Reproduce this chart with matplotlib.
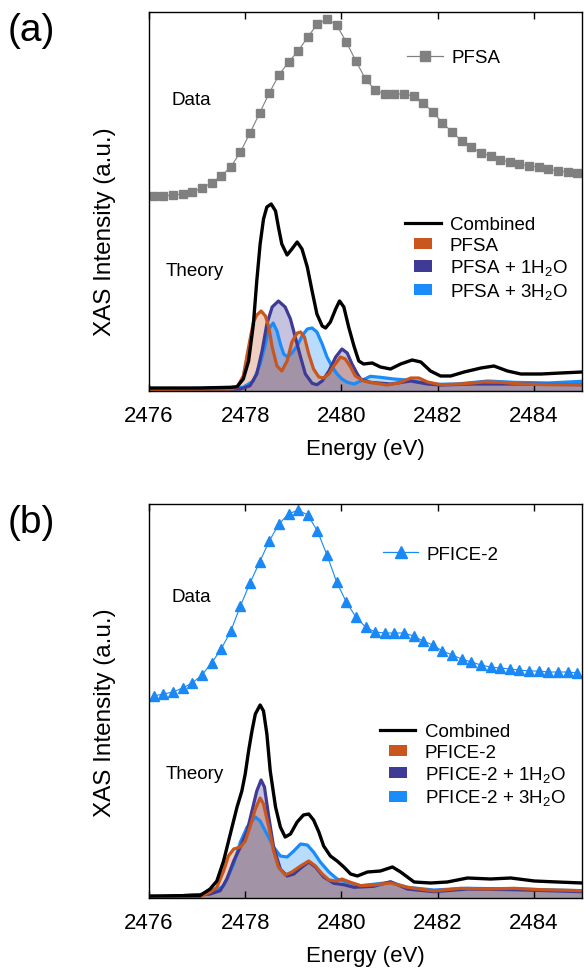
import matplotlib
matplotlib.use("Agg")
import matplotlib.pyplot as plt
import matplotlib.patches as mpatches
from matplotlib.lines import Line2D
from matplotlib.legend_handler import HandlerPatch

plt.rcParams['font.family'] = ['Liberation Sans', 'DejaVu Sans']
plt.rcParams['mathtext.fontset'] = 'custom'
plt.rcParams['mathtext.rm'] = 'Liberation Sans'
plt.rcParams['mathtext.it'] = 'Liberation Sans:italic'
plt.rcParams['mathtext.bf'] = 'Liberation Sans:bold'

# ---------------- data ----------------
data_energy = [2476.1 + 0.2 * i for i in range(45)]

pfsa_data = [1.95, 1.95, 1.96, 1.97, 1.99, 2.03, 2.08, 2.15, 2.24, 2.39, 2.58, 2.78,
             2.98, 3.16, 3.29, 3.40, 3.54, 3.67, 3.72, 3.66, 3.49, 3.30, 3.12, 3.01,
             2.97, 2.97, 2.97, 2.95, 2.88, 2.79, 2.68, 2.59, 2.50, 2.44, 2.38, 2.35,
             2.31, 2.29, 2.27, 2.25, 2.24, 2.22, 2.20, 2.19, 2.18]

pfice_data = [2.02, 2.04, 2.06, 2.10, 2.15, 2.23, 2.35, 2.49, 2.67, 2.92, 3.15, 3.36,
              3.57, 3.74, 3.84, 3.88, 3.83, 3.67, 3.43, 3.16, 2.96, 2.81, 2.71, 2.66,
              2.65, 2.65, 2.65, 2.62, 2.57, 2.53, 2.47, 2.43, 2.39, 2.36, 2.33, 2.31,
              2.30, 2.29, 2.28, 2.27, 2.27, 2.26, 2.26, 2.26, 2.25]

# theory (a)
a_comb_e = [2476.00, 2477.06, 2477.69, 2477.83, 2477.96, 2478.07, 2478.17, 2478.24, 2478.31,
            2478.38, 2478.45, 2478.54, 2478.63, 2478.69, 2478.76, 2478.87, 2478.97, 2479.08,
            2479.18, 2479.29, 2479.39, 2479.49, 2479.60, 2479.67, 2479.77, 2479.88, 2479.96,
            2480.05, 2480.15, 2480.26, 2480.36, 2480.46, 2480.64, 2480.81, 2481.02, 2481.23,
            2481.47, 2481.65, 2481.85, 2482.06, 2482.27, 2482.55, 2482.90, 2483.17, 2483.45,
            2483.73, 2484.15, 2484.56, 2485.00]
a_comb_v = [0.03, 0.03, 0.037, 0.043, 0.12, 0.30, 0.67, 1.10, 1.47,
            1.72, 1.84, 1.87, 1.80, 1.64, 1.47, 1.36, 1.42, 1.49,
            1.42, 1.24, 1.00, 0.77, 0.65, 0.63, 0.69, 0.82, 0.90,
            0.84, 0.64, 0.45, 0.30, 0.27, 0.28, 0.24, 0.22, 0.27,
            0.31, 0.29, 0.20, 0.15, 0.15, 0.19, 0.23, 0.25, 0.20,
            0.17, 0.17, 0.18, 0.19]

a_pfsa_e = [2476.00, 2477.69, 2477.83, 2477.96, 2478.07, 2478.17, 2478.24, 2478.33, 2478.42,
            2478.49, 2478.56, 2478.66, 2478.76, 2478.87, 2478.97, 2479.08, 2479.15, 2479.23,
            2479.32, 2479.42, 2479.53, 2479.63, 2479.74, 2479.84, 2479.98, 2480.08, 2480.19,
            2480.29, 2480.46, 2480.67, 2480.95, 2481.19, 2481.44, 2481.61, 2481.79, 2482.06,
            2482.48, 2482.96, 2483.31, 2483.73, 2484.29, 2485.00]
a_pfsa_v = [0.015, 0.02, 0.037, 0.15, 0.44, 0.69, 0.76, 0.80, 0.75,
            0.64, 0.44, 0.25, 0.20, 0.30, 0.49, 0.58, 0.59, 0.54,
            0.37, 0.22, 0.14, 0.13, 0.17, 0.25, 0.34, 0.32, 0.24,
            0.15, 0.10, 0.08, 0.06, 0.08, 0.13, 0.13, 0.09, 0.063,
            0.07, 0.09, 0.087, 0.07, 0.063, 0.063]

a_h1_e = [2476.00, 2477.90, 2478.10, 2478.24, 2478.35, 2478.45, 2478.56, 2478.69, 2478.83,
          2478.94, 2479.04, 2479.15, 2479.25, 2479.39, 2479.49, 2479.60, 2479.74, 2479.88,
          2480.01, 2480.12, 2480.22, 2480.33, 2480.40, 2480.60, 2481.02, 2481.44, 2481.79,
          2482.06, 2482.76, 2483.45, 2485.00]
a_h1_v = [0.015, 0.02, 0.053, 0.17, 0.40, 0.67, 0.84, 0.90, 0.84,
          0.72, 0.54, 0.34, 0.17, 0.077, 0.063, 0.10, 0.20, 0.34,
          0.42, 0.38, 0.27, 0.17, 0.12, 0.087, 0.07, 0.10, 0.07,
          0.06, 0.07, 0.07, 0.063]

a_h3_e = [2476.00, 2477.96, 2478.17, 2478.31, 2478.42, 2478.49, 2478.58, 2478.66, 2478.73,
          2478.80, 2478.88, 2478.97, 2479.08, 2479.18, 2479.29, 2479.39, 2479.49, 2479.60,
          2479.70, 2479.81, 2479.91, 2480.01, 2480.12, 2480.26, 2480.40, 2480.60, 2480.81,
          2481.09, 2481.37, 2481.65, 2481.99, 2482.41, 2483.04, 2483.59, 2484.29, 2485.00]
a_h3_v = [0.015, 0.037, 0.10, 0.27, 0.47, 0.62, 0.68, 0.60, 0.47,
          0.37, 0.34, 0.38, 0.45, 0.55, 0.62, 0.63, 0.59, 0.47,
          0.34, 0.24, 0.17, 0.12, 0.087, 0.07, 0.10, 0.147, 0.137,
          0.12, 0.11, 0.087, 0.067, 0.07, 0.10, 0.087, 0.08, 0.097]

# theory (b)
b_comb_e = [2476.00, 2477.06, 2477.27, 2477.41, 2477.55, 2477.69, 2477.83, 2477.93, 2478.00,
            2478.07, 2478.14, 2478.21, 2478.31, 2478.38, 2478.45, 2478.52, 2478.63, 2478.73,
            2478.83, 2478.94, 2479.08, 2479.21, 2479.32, 2479.42, 2479.53, 2479.63, 2479.77,
            2479.91, 2480.05, 2480.19, 2480.33, 2480.54, 2480.81, 2481.06, 2481.23, 2481.51,
            2481.85, 2482.20, 2482.62, 2483.10, 2483.52, 2484.01, 2484.49, 2485.00]
b_comb_v = [0.02, 0.025, 0.09, 0.17, 0.37, 0.64, 0.91, 1.07, 1.24,
            1.47, 1.67, 1.84, 1.93, 1.87, 1.64, 1.27, 0.91, 0.71,
            0.61, 0.64, 0.76, 0.83, 0.84, 0.78, 0.66, 0.52, 0.42,
            0.37, 0.31, 0.24, 0.22, 0.26, 0.27, 0.31, 0.26, 0.16,
            0.15, 0.16, 0.20, 0.19, 0.20, 0.17, 0.16, 0.15]

b_pfice_e = [2476.00, 2477.06, 2477.27, 2477.41, 2477.55, 2477.65, 2477.76, 2477.90, 2478.00,
             2478.10, 2478.21, 2478.31, 2478.38, 2478.49, 2478.59, 2478.69, 2478.83, 2478.97,
             2479.15, 2479.32, 2479.46, 2479.60, 2479.74, 2479.88, 2480.01, 2480.19, 2480.40,
             2480.67, 2481.02, 2481.37, 2481.92, 2482.48, 2483.04, 2483.59, 2484.15, 2485.00]
b_pfice_v = [0.01, 0.015, 0.057, 0.107, 0.27, 0.42, 0.49, 0.51, 0.57,
             0.71, 0.89, 1.00, 0.94, 0.71, 0.47, 0.31, 0.23, 0.26,
             0.32, 0.37, 0.32, 0.24, 0.18, 0.17, 0.19, 0.157, 0.123,
             0.13, 0.15, 0.107, 0.07, 0.097, 0.09, 0.097, 0.083, 0.073]

b_h1_e = [2476.00, 2477.27, 2477.48, 2477.62, 2477.76, 2477.90, 2478.04, 2478.14, 2478.24,
          2478.33, 2478.40, 2478.49, 2478.59, 2478.73, 2478.87, 2479.01, 2479.18, 2479.32,
          2479.46, 2479.63, 2479.84, 2480.05, 2480.26, 2480.67, 2481.02, 2481.37, 2481.92,
          2482.62, 2483.59, 2485.00]
b_h1_v = [0.005, 0.04, 0.073, 0.19, 0.37, 0.51, 0.67, 0.87, 1.07,
          1.18, 1.11, 0.81, 0.51, 0.29, 0.22, 0.24, 0.31, 0.36,
          0.31, 0.21, 0.147, 0.133, 0.107, 0.117, 0.163, 0.09, 0.063,
          0.09, 0.083, 0.063]

b_h3_e = [2476.00, 2477.27, 2477.55, 2477.76, 2477.90, 2478.04, 2478.14, 2478.21, 2478.31,
          2478.45, 2478.59, 2478.73, 2478.87, 2479.01, 2479.15, 2479.29, 2479.42, 2479.56,
          2479.74, 2479.91, 2480.12, 2480.40, 2481.02, 2481.37, 2481.92, 2482.62, 2483.59,
          2485.00]
b_h3_v = [0.005, 0.04, 0.12, 0.34, 0.56, 0.71, 0.77, 0.81, 0.77,
          0.64, 0.51, 0.42, 0.41, 0.47, 0.54, 0.53, 0.46, 0.36,
          0.26, 0.19, 0.157, 0.123, 0.157, 0.107, 0.08, 0.097, 0.09,
          0.073]

x_ticks = [2476, 2478, 2480, 2482, 2484]

# ---------------- styling ----------------
C_ORANGE = '#C9561C'
C_PURPLE = '#3F3A96'
C_BLUE = '#1A8CFA'
C_GRAY = '#808080'
C_TRI = '#1A88F5'

FS_TICK = 16
FS_LEG = 13.5
FS_TXT = 13.5


class RectHandler(HandlerPatch):
    def create_artists(self, legend, orig_handle, xdescent, ydescent, width, height,
                       fontsize, trans):
        p = mpatches.Rectangle((0.25 * width - xdescent, -ydescent + 0.05 * height),
                               0.5 * width, 0.85 * height,
                               facecolor=orig_handle.get_facecolor(), edgecolor='none',
                               transform=trans)
        return [p]


def panel(ax, ylim, data_y, data_marker, data_color, data_ms, data_label,
          theory, labels, data_leg_xy, th_leg_xy, ylab_y):
    ax.set_xlim(2476, 2485)
    ax.set_ylim(*ylim)
    # data
    ax.plot(data_energy, data_y, color=data_color, lw=0.8, marker=data_marker,
            ms=data_ms, mec=data_color, mfc=data_color, label=data_label, clip_on=True)
    # theory fills
    (ce, cv), (e1, v1), (e2, v2), (e3, v3) = theory
    ax.fill_between(e3, 0, v3, color=C_BLUE, alpha=0.30, lw=0)
    ax.fill_between(e2, 0, v2, color=C_PURPLE, alpha=0.30, lw=0)
    ax.fill_between(e1, 0, v1, color=C_ORANGE, alpha=0.28, lw=0)
    ax.plot(e3, v3, color=C_BLUE, lw=2.3, solid_joinstyle='round')
    ax.plot(e2, v2, color=C_PURPLE, lw=2.3, solid_joinstyle='round')
    ax.plot(e1, v1, color=C_ORANGE, lw=2.3, solid_joinstyle='round')
    ax.plot(ce, cv, color='black', lw=2.4, solid_joinstyle='round')

    # axes styling
    ax.set_xticks(x_ticks)
    ax.set_yticks([])
    ax.tick_params(axis='x', direction='in', top=True, bottom=True, length=5,
                   width=1, labelsize=FS_TICK, pad=10)
    for s in ax.spines.values():
        s.set_linewidth(1.0)
    ax.set_xlabel('Energy (eV)', fontsize=FS_TICK, labelpad=9)
    ax.set_ylabel('XAS Intensity (a.u.)', fontsize=17.5)
    ax.yaxis.set_label_coords(-0.076, ylab_y)

    # legends
    dh = Line2D([], [], color=data_color, lw=0.9, marker=data_marker, ms=data_ms * 1.15,
                mec=data_color, mfc=data_color)
    leg1 = ax.legend([dh], [data_label], loc='center left', bbox_to_anchor=data_leg_xy,
                     frameon=False, fontsize=FS_LEG, handlelength=1.9, handletextpad=0.45,
                     borderpad=0, borderaxespad=0)
    ax.add_artist(leg1)
    hs = [Line2D([], [], color='black', lw=2.3),
          mpatches.Patch(facecolor=C_ORANGE),
          mpatches.Patch(facecolor=C_PURPLE),
          mpatches.Patch(facecolor=C_BLUE)]
    ax.legend(hs, labels, loc='center left', bbox_to_anchor=th_leg_xy, frameon=False,
              fontsize=FS_LEG, handlelength=1.9, handletextpad=0.5, labelspacing=0.18,
              borderpad=0, borderaxespad=0,
              handler_map={mpatches.Patch: RectHandler()})


fig = plt.figure(figsize=(5.84, 9.70), dpi=100)
ax1 = fig.add_axes([149 / 584, (970 - 392) / 970, 433 / 584, 379 / 970])
ax2 = fig.add_axes([149 / 584, (970 - 899) / 970, 433 / 584, 394 / 970])

sub = r'$_\mathregular{2}$'
panel(ax1, (0, 3.79), pfsa_data, 's', C_GRAY, 5.8, 'PFSA',
      [(a_comb_e, a_comb_v), (a_pfsa_e, a_pfsa_v), (a_h1_e, a_h1_v), (a_h3_e, a_h3_v)],
      ['Combined', 'PFSA', 'PFSA + 1H' + sub + 'O', 'PFSA + 3H' + sub + 'O'],
      (0.596, 0.879), (0.591, 0.350), 0.422)
panel(ax2, (0, 3.94), pfice_data, '^', C_TRI, 7.0, 'PFICE-2',
      [(b_comb_e, b_comb_v), (b_pfice_e, b_pfice_v), (b_h1_e, b_h1_v), (b_h3_e, b_h3_v)],
      ['Combined', 'PFICE-2', 'PFICE-2 + 1H' + sub + 'O', 'PFICE-2 + 3H' + sub + 'O'],
      (0.540, 0.873), (0.533, 0.337), 0.472)

ax1.text(0.053, 0.770, 'Data', transform=ax1.transAxes, fontsize=FS_TXT, va='center', ha='left')
ax1.text(0.039, 0.317, 'Theory', transform=ax1.transAxes, fontsize=FS_TXT, va='center', ha='left')
ax2.text(0.053, 0.764, 'Data', transform=ax2.transAxes, fontsize=FS_TXT, va='center', ha='left')
ax2.text(0.039, 0.315, 'Theory', transform=ax2.transAxes, fontsize=FS_TXT, va='center', ha='left')

fig.text(8 / 584, 1 - 31 / 970, '(a)', fontsize=28, va='center', ha='left')
fig.text(8 / 584, 1 - 523 / 970, '(b)', fontsize=28, va='center', ha='left')

fig.savefig('out.png', dpi=100)
